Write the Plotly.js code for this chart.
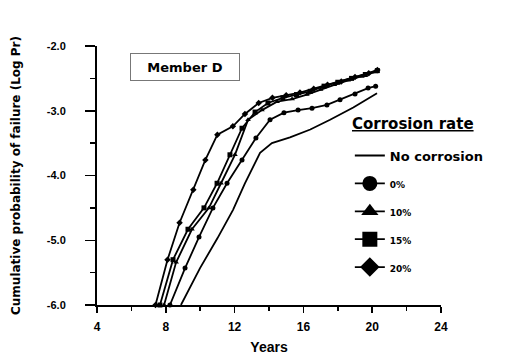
<!DOCTYPE html>
<html>
<head>
<meta charset="utf-8">
<script src="https://cdn.plot.ly/plotly-3.0.1.min.js"></script>
<style>html,body{margin:0;padding:0;background:#fff;}#chart{width:507px;height:356px;}</style>
</head>
<body>
<div id="chart"></div>
<script>
// ---- data (years, log10 cumulative probability of failure) ----
const noCorrYears = [8.88, 9.99, 11.0, 11.91, 12.6, 13.48, 14.17, 15.22, 16.4, 17.55, 18.9, 20.28];
const noCorrVals  = [-6.0, -5.43, -4.97, -4.53, -4.12, -3.65, -3.50, -3.41, -3.29, -3.14, -2.95, -2.73];

const rate0Years = [8.24, 9.12, 9.93, 10.74, 11.56, 12.43, 13.24, 14.06, 14.87, 15.69, 16.5, 17.37, 18.13, 19.0, 19.76, 20.2];
const rate0Vals  = [-6.0, -5.43, -4.95, -4.50, -4.12, -3.76, -3.42, -3.14, -3.03, -2.99, -2.96, -2.91, -2.83, -2.74, -2.65, -2.62];

const rate10Years = [7.9, 8.6, 9.52, 10.51, 11.21, 12.02, 12.78, 13.59, 14.47, 15.34, 16.2, 17.0, 17.8, 18.6, 19.4, 20.2];
const rate10Vals  = [-6.0, -5.34, -4.83, -4.50, -4.12, -3.68, -3.14, -2.99, -2.86, -2.82, -2.75, -2.67, -2.60, -2.53, -2.47, -2.40];

const rate15Years = [7.66, 8.42, 9.29, 10.22, 10.98, 11.73, 12.43, 13.19, 13.94, 14.81, 15.6, 16.4, 17.2, 18.0, 18.8, 19.6, 20.3];
const rate15Vals  = [-6.0, -5.30, -4.83, -4.50, -4.12, -3.68, -3.27, -3.02, -2.88, -2.80, -2.75, -2.70, -2.62, -2.56, -2.50, -2.44, -2.38];

const rate20Years = [7.4, 8.1, 8.8, 9.6, 10.3, 11.0, 11.9, 12.6, 13.4, 14.2, 15.0, 15.8, 16.6, 17.4, 18.2, 19.0, 19.8, 20.3];
const rate20Vals  = [-6.0, -5.30, -4.73, -4.22, -3.76, -3.37, -3.24, -3.05, -2.88, -2.80, -2.76, -2.72, -2.66, -2.60, -2.55, -2.48, -2.42, -2.37];

const seriesNames = ['No corrosion', '0%', '10%', '15%', '20%'];
const seriesSymbols = [null, 'circle', 'triangle-up', 'square', 'diamond'];
const seriesYears = [noCorrYears, rate0Years, rate10Years, rate15Years, rate20Years];
const seriesVals = [noCorrVals, rate0Vals, rate10Vals, rate15Vals, rate20Vals];

const xTickVals = [4, 8, 12, 16, 20, 24];
const xTickText = ['4', '8', '12', '16', '20', '24'];
const yTickVals = [-6, -5, -4, -3, -2];
const yTickText = ['-6.0', '-5.0', '-4.0', '-3.0', '-2.0'];

const FONT = 'Liberation Sans, Arial, sans-serif';
const WIDE = 'DejaVu Sans, Verdana, sans-serif';
const NARROW = 'Liberation Sans Narrow, Liberation Sans, Arial, sans-serif';

const traces = [];
// data traces
seriesNames.forEach((nm, i) => {
  const t = {
    x: seriesYears[i], y: seriesVals[i], name: nm, type: 'scatter',
    mode: seriesSymbols[i] ? 'lines+markers' : 'lines',
    line: {color: '#000', width: 1.8},
    showlegend: false, cliponaxis: false
  };
  if (seriesSymbols[i]) t.marker = {color: '#000', size: 5, symbol: seriesSymbols[i]};
  traces.push(t);
});
// legend entries (larger key symbols, as in the original key)
seriesNames.forEach((nm, i) => {
  const t = {
    x: [null], y: [null], type: 'scatter',
    name: i === 0 ? nm : '<span style="font-size:9px">' + nm + '</span>',
    legendgroup: 'g' + i,
    mode: seriesSymbols[i] ? 'lines+markers' : 'lines',
    line: {color: '#000', width: 1.8}
  };
  if (seriesSymbols[i]) t.marker = {color: '#000', size: 15, symbol: seriesSymbols[i]};
  traces.push(t);
});

const layout = {
  width: 507, height: 356,
  margin: {l: 97, r: 66, t: 46, b: 51},
  paper_bgcolor: '#fff', plot_bgcolor: '#fff',
  font: {family: FONT, color: '#000', size: 11},
  showlegend: true,
  legend: {
    x: 0.735, y: 0.635, xanchor: 'left', yanchor: 'top',
    traceorder: 'grouped', tracegroupgap: 8,
    itemsizing: 'trace',
    font: {family: WIDE, size: 13, color: '#000', weight: 'bold'},
    bgcolor: 'rgba(0,0,0,0)'
  },
  xaxis: {
    range: [4, 24], showgrid: false, zeroline: false,
    showline: true, linecolor: '#000', linewidth: 2,
    tickmode: 'array', tickvals: xTickVals, ticktext: xTickText,
    ticks: 'outside', ticklen: 6, tickwidth: 1.5, tickcolor: '#000',
    ticklabelstandoff: 4,
    minor: {dtick: 2, tick0: 4, ticks: 'outside', ticklen: 4, tickwidth: 1.5, tickcolor: '#000', showgrid: false},
    tickfont: {family: NARROW, size: 12, weight: 'bold'},
    title: {text: 'Years', font: {family: FONT, size: 14, weight: 'bold'}, standoff: 9},
    automargin: false
  },
  yaxis: {
    range: [-6, -2], showgrid: false, zeroline: false,
    showline: true, linecolor: '#000', linewidth: 2,
    tickmode: 'array', tickvals: yTickVals, ticktext: yTickText,
    ticks: 'outside', ticklen: 10, tickwidth: 1.5, tickcolor: '#000',
    ticklabelstandoff: 17,
    minor: {dtick: 0.5, ticks: 'outside', ticklen: 5, tickwidth: 1.5, tickcolor: '#000', showgrid: false},
    tickfont: {family: FONT, size: 11, weight: 'bold'},
    title: {text: 'Cumulative probability of failure (Log Pr)', font: {family: WIDE, size: 12, weight: 'bold'}, standoff: 24},
    automargin: false
  },
  annotations: [{
    text: '<b>Member D</b>', xref: 'paper', yref: 'paper', x: 0.257, y: 0.92,
    xanchor: 'center', yanchor: 'middle', showarrow: false,
    font: {family: WIDE, size: 13, color: '#000'},
    width: 104, height: 22, bordercolor: '#777', borderwidth: 1, borderpad: 2
  }, {
    text: '<b><span style="text-decoration:underline">Corrosion rate</span></b>',
    xref: 'paper', yref: 'paper', x: 0.735, y: 0.697,
    xanchor: 'left', yanchor: 'middle', showarrow: false,
    font: {family: WIDE, size: 15, color: '#000'}
  }]
};

Plotly.newPlot('chart', traces, layout, {staticPlot: true, displayModeBar: false});
</script>
</body>
</html>
